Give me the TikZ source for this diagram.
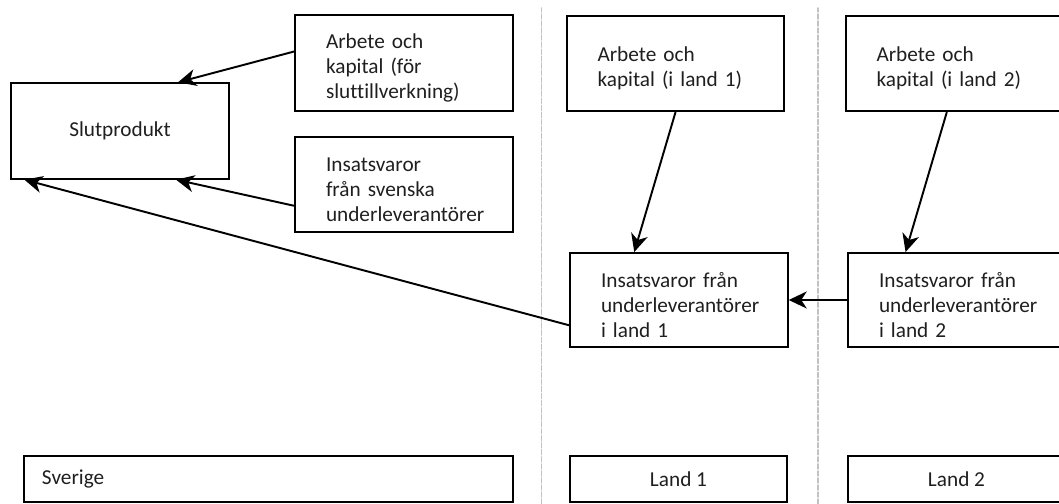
\documentclass[tikz,border=0pt]{standalone}
\usepackage{fontspec}
\setmainfont[Ligatures=NoCommon]{Carlito}
\usetikzlibrary{arrows.meta}
\definecolor{sepG}{rgb}{0.76,0.76,0.76}
\definecolor{txtD}{rgb}{0.12,0.12,0.12}

\begin{document}
\begin{tikzpicture}[>={Stealth[length=0.36cm,width=0.34cm,inset=0.11cm]}, line cap=round,
  box/.style={draw, rectangle, line width=1.1pt, inner xsep=0pt, inner ysep=0pt,
    text=txtD, font=\fontsize{12.1}{14.2}\selectfont},
  bigbox/.style={box, minimum width=4.35cm, minimum height=1.91cm},
  txtbox/.style={bigbox, text width=3.12cm, align=left,
    execute at begin node={\rule{0pt}{0.5cm}}},
  landbox/.style={box, minimum width=4.34cm, minimum height=0.92cm, align=center},
  conn/.style={->, line width=1.1pt}]
\path[use as bounding box, clip] (0,0) rectangle (21.18,10.08);
% 分隔线
\draw[sepG, line width=0.9pt, dash pattern=on 2.8pt off 1.2pt] (10.83,0) -- (10.83,9.92);
\draw[sepG, line width=0.9pt, dash pattern=on 2.8pt off 1.2pt] (16.36,0) -- (16.36,9.92);
% 方框（Sverige）
\node[bigbox, align=center] (slut) at (2.40,7.46) {Slutprodukt};
\node[txtbox] (arbS) at (8.08,8.82) {Arbete och\\kapital (för\\sluttillverkning)};
\node[txtbox] (insS) at (8.08,6.39) {Insatsvaror\\från svenska\\underleverantörer};
% 方框（land 1, land 2）
\node[txtbox] (arb1) at (13.51,8.81) {Arbete och\\kapital (i land 1)};
\node[txtbox] (arb2) at (19.09,8.81) {Arbete och\\kapital (i land 2)};
\node[txtbox, minimum height=1.88cm] (ins1) at (13.58,4.08) {Insatsvaror från\\underleverantörer\\i land 1};
\node[txtbox, minimum height=1.88cm] (ins2) at (19.14,4.08) {Insatsvaror från\\underleverantörer\\i land 2};
% 底部标签
\node[landbox, minimum width=9.78cm, text width=9.06cm, align=left] (sve) at (5.37,0.50) {Sverige};
\node[landbox] (land1) at (13.57,0.50) {Land 1};
\node[landbox] (land2) at (19.13,0.50) {Land 2};
% 箭头
\draw[conn] (arbS.174) -- (slut.40);
\draw[conn] (insS.191) -- (slut.319);
\draw[conn] (ins1.193) -- (slut.207);
\draw[conn] (arb1.south) -- (ins1.133);
\draw[conn] (arb2.261) -- (ins2.137);
\draw[conn] (ins2) -- (ins1);
\end{tikzpicture}
\end{document}
